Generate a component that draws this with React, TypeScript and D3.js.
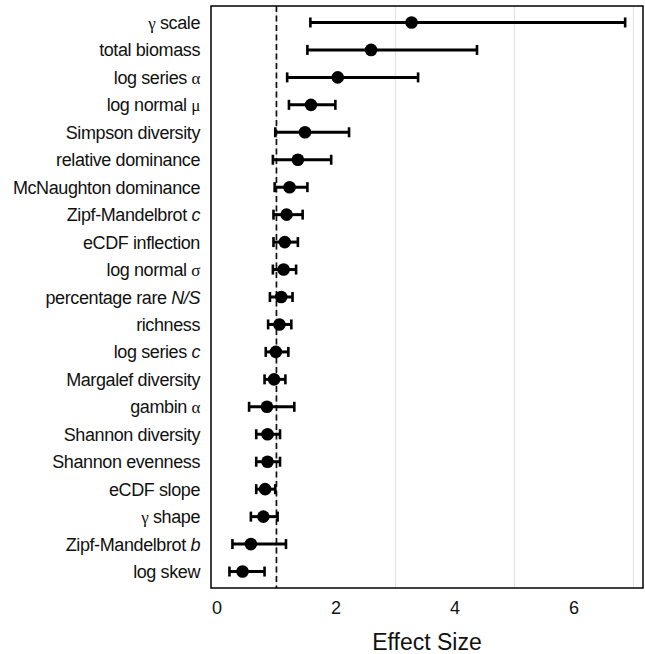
import React from "react";
import * as d3 from "d3";

// metric names, top to bottom; _x_ = italic, greek letters drawn in a serif face
const metrics = [
  "γ scale", "total biomass", "log series α", "log normal μ", "Simpson diversity",
  "relative dominance", "McNaughton dominance", "Zipf-Mandelbrot _c_", "eCDF inflection",
  "log normal σ", "percentage rare _N/S_", "richness", "log series _c_", "Margalef diversity",
  "gambin α", "Shannon diversity", "Shannon evenness", "eCDF slope", "γ shape",
  "Zipf-Mandelbrot _b_", "log skew",
];
const effect = [3.27, 2.59, 2.03, 1.58, 1.48, 1.36, 1.22, 1.17, 1.14, 1.12, 1.08, 1.05, 0.99, 0.96, 0.84, 0.85, 0.85, 0.81, 0.78, 0.57, 0.43];
const lower = [1.57, 1.52, 1.18, 1.21, 0.98, 0.94, 0.97, 0.95, 0.95, 0.94, 0.89, 0.86, 0.82, 0.8, 0.54, 0.66, 0.66, 0.66, 0.57, 0.26, 0.21];
const upper = [6.86, 4.37, 3.38, 1.99, 2.22, 1.92, 1.52, 1.44, 1.36, 1.33, 1.27, 1.25, 1.2, 1.15, 1.3, 1.06, 1.06, 0.98, 1.02, 1.16, 0.8];
const xTicks = [0, 2, 4, 6];
const gridTicks = [1, 3, 5, 7];
const refLine = 1;

export default function App() {
  const svgRef = React.useRef(null);
  const W = 645, H = 654;
  const panel = { left: 211, top: 6, right: 643, bottom: 588 };

  React.useEffect(() => {
    const svg = d3.select(svgRef.current);
    svg.selectAll("*").remove();

    const x = d3.scaleLinear().domain([-0.1, 7.16]).range([panel.left, panel.right]);
    const y = d3.scalePoint().domain(metrics).range([panel.top, panel.bottom]).padding(0.6);
    const font = "'Liberation Sans', Arial, sans-serif";

    // light grid
    svg.append("g").selectAll("line").data(gridTicks).enter().append("line")
      .attr("x1", d => x(d)).attr("x2", d => x(d))
      .attr("y1", panel.top).attr("y2", panel.bottom)
      .attr("stroke", "#e4e4e4").attr("stroke-width", 1.2);

    // reference line at effect size 1
    svg.append("line")
      .attr("x1", x(refLine)).attr("x2", x(refLine))
      .attr("y1", panel.top).attr("y2", panel.bottom)
      .attr("stroke", "#111").attr("stroke-width", 1.7)
      .attr("stroke-dasharray", "6,3.5");

    const rows = metrics.map((m, i) => ({ m, v: effect[i], lo: lower[i], hi: upper[i] }));
    const g = svg.append("g").selectAll("g").data(rows).enter().append("g");
    g.append("line")
      .attr("x1", d => x(d.lo)).attr("x2", d => x(d.hi))
      .attr("y1", d => y(d.m)).attr("y2", d => y(d.m))
      .attr("stroke", "#000").attr("stroke-width", 3);
    [(d) => d.lo, (d) => d.hi].forEach(acc => {
      g.append("line")
        .attr("x1", d => x(acc(d))).attr("x2", d => x(acc(d)))
        .attr("y1", d => y(d.m) - 5).attr("y2", d => y(d.m) + 5)
        .attr("stroke", "#000").attr("stroke-width", 2.6);
    });
    g.append("circle")
      .attr("cx", d => x(d.v)).attr("cy", d => y(d.m)).attr("r", 6.3)
      .attr("fill", "#000");

    // panel border
    svg.append("rect")
      .attr("x", panel.left).attr("y", panel.top)
      .attr("width", panel.right - panel.left).attr("height", panel.bottom - panel.top)
      .attr("fill", "none").attr("stroke", "#000").attr("stroke-width", 1.5);

    // category labels
    const labels = svg.append("g").selectAll("text").data(metrics).enter().append("text")
      .attr("x", 200).attr("y", d => y(d) + 6.5)
      .attr("text-anchor", "end")
      .attr("font-family", font).attr("font-size", 18).attr("letter-spacing", -0.4)
      .attr("fill", "#111");
    labels.each(function (d) {
      const t = d3.select(this);
      const parts = d.split(/(_[^_]+_|[γαμσ])/).filter(p => p.length);
      parts.forEach(p => {
        if (p.startsWith("_")) {
          t.append("tspan").attr("font-style", "italic").text(p.slice(1, -1));
        } else if (/^[γαμσ]$/.test(p)) {
          t.append("tspan").attr("font-family", "'Liberation Serif', serif").attr("font-size", 17).text(p);
        } else {
          t.append("tspan").text(p);
        }
      });
    });

    // x tick labels
    svg.append("g").selectAll("text").data(xTicks).enter().append("text")
      .attr("x", d => x(d)).attr("y", 613.5)
      .attr("text-anchor", "middle")
      .attr("font-family", font).attr("font-size", 18).attr("fill", "#111")
      .text(d => d);

    svg.append("text")
      .attr("x", 427).attr("y", 650)
      .attr("text-anchor", "middle")
      .attr("font-family", font).attr("font-size", 23).attr("fill", "#111")
      .text("Effect Size");
  }, []);

  return (
    <svg ref={svgRef} width={W} height={H}
      style={{ position: "absolute", left: 0, top: 0, background: "#fff" }} />
  );
}
